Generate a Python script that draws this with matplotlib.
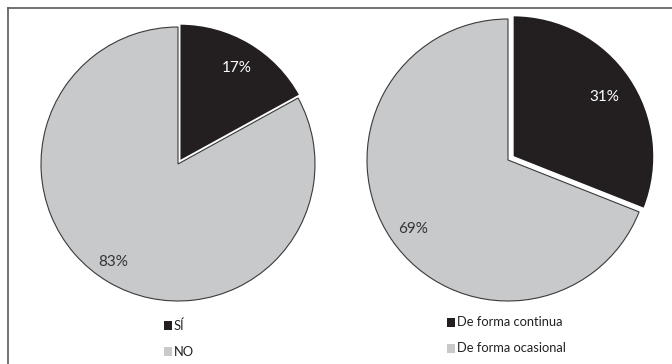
import matplotlib
matplotlib.use("Agg")
import matplotlib.pyplot as plt
from matplotlib.lines import Line2D
from matplotlib.patches import Rectangle

plt.rcParams['font.family'] = ['Lato', 'DejaVu Sans']

# Data
left_labels = ["SÍ", "NO"]
left_values = [17, 83]
right_labels = ["De forma continua", "De forma ocasional"]
right_values = [31, 69]
colors = ["#231f20", "#c8c9cb"]

W, H = 672, 364
fig = plt.figure(figsize=(W / 100, H / 100), dpi=100)
ax = fig.add_axes([0, 0, 1, 1])


def py(y):
    """Convert a top-down pixel row to the axes' bottom-up coordinate."""
    return H - y


def draw_pie(values, center, radius, explode_px, label_pos):
    wedges, _ = ax.pie(values, center=(center[0], py(center[1])), radius=radius,
                       startangle=90, counterclock=False,
                       explode=[explode_px, 0], colors=colors,
                       wedgeprops=dict(edgecolor="#3a3a3a", linewidth=0.8),
                       frame=False)
    wedges[0].set_edgecolor("white")
    wedges[0].set_linewidth(1.0)
    txt_colors = ["white", "#333333"]
    for v, (x, y), c in zip(values, label_pos, txt_colors):
        ax.text(x, py(y), f"{v}%", ha="center", va="center",
                fontsize=11, color=c)
    return wedges


draw_pie(left_values, (178, 164), 137, 3.5, [(237, 68), (113, 262)])
draw_pie(right_values, (508, 160), 141, 6, [(604, 97), (413, 229)])


def legend(x, ys, labels):
    for y, lab, col in zip(ys, labels, colors):
        ax.add_patch(Rectangle((x, py(y) - 4.5), 8, 9, facecolor=col,
                               edgecolor="none"))
        ax.text(x + 10, py(y), lab, ha="left", va="center", fontsize=9.3,
                color="#222222")


legend(164, [325.5, 351.5], left_labels)
legend(447, [322.5, 348.5], right_labels)

ax.set_xlim(0, W)
ax.set_ylim(0, H)
ax.set_aspect("equal")
ax.axis("off")

# Outer frame (top and left edges)
fig.add_artist(Line2D([7.5 / W, 1], [1 - 8 / H, 1 - 8 / H],
                      transform=fig.transFigure, color="#5a5a5a", lw=1.2))
fig.add_artist(Line2D([7.5 / W, 7.5 / W], [0, 1 - 8 / H],
                      transform=fig.transFigure, color="#5a5a5a", lw=1.2))

fig.savefig("out.png", dpi=100, facecolor="white")
